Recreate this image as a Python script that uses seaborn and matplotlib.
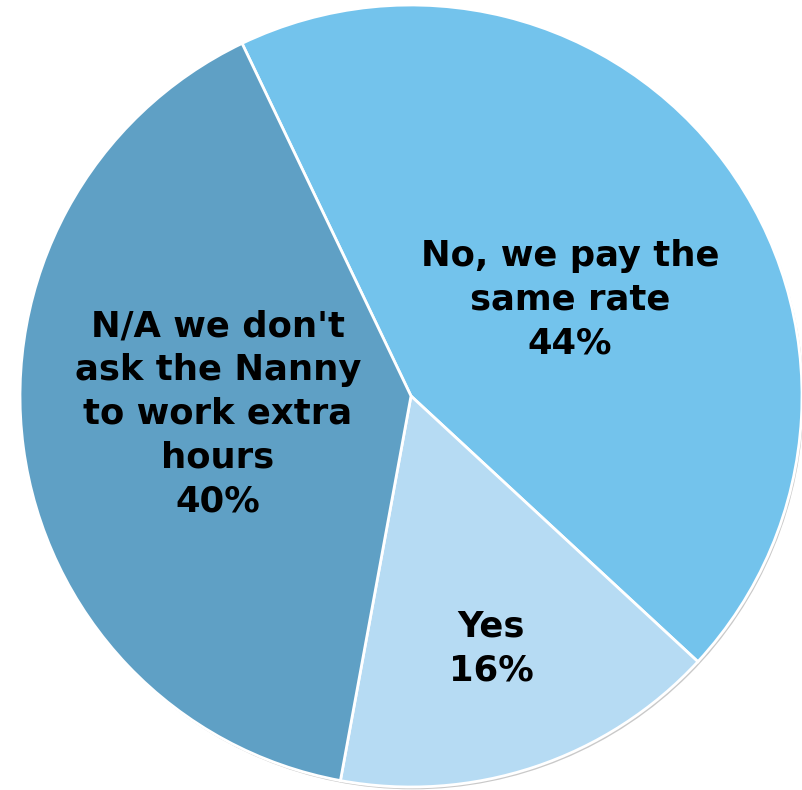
import matplotlib

matplotlib.use("Agg")
import matplotlib.pyplot as plt
from matplotlib.patches import Circle
import seaborn as sns

LABELS = ["No, we pay the\nsame rate", "Yes", "N/A we don't\nask the Nanny\nto work extra\nhours"]
SHARES = [44, 16, 40]
COLORS = ["#73C3EC", "#B6DBF3", "#5FA0C5"]
# label anchor points inside each wedge (data units, radius = 1)
LABEL_POS = [(0.407, 0.246), (0.205, -0.645), (-0.494, -0.045)]

sns.set_theme(style="white")
plt.rcParams["font.family"] = ["DejaVu Sans"]

fig = plt.figure(figsize=(8.02, 7.90), dpi=100)
ax = fig.add_axes([0, 0, 1, 1])

# faint shadow round the rim
ax.add_patch(Circle((0.004, -0.006), 1.0, facecolor="#c9c9c9", edgecolor="none", zorder=0))

wedges, _ = ax.pie(
    SHARES,
    colors=COLORS,
    startangle=115.6,
    counterclock=False,
    radius=1.0,
    wedgeprops={"edgecolor": "white", "linewidth": 2},
)
for w in wedges:
    w.set_zorder(1)

for label, share, (x, y) in zip(LABELS, SHARES, LABEL_POS):
    ax.text(x, y, f"{label}\n{share}%", ha="center", va="center",
            fontsize=25.5, fontweight="bold", color="black",
            linespacing=1.36, zorder=3)

ax.set_xlim(-411 / 391, 391 / 391)
ax.set_ylim(-394 / 391, 396 / 391)
ax.set_aspect("equal")
ax.axis("off")

fig.savefig("out.png", dpi=100, facecolor="white")
